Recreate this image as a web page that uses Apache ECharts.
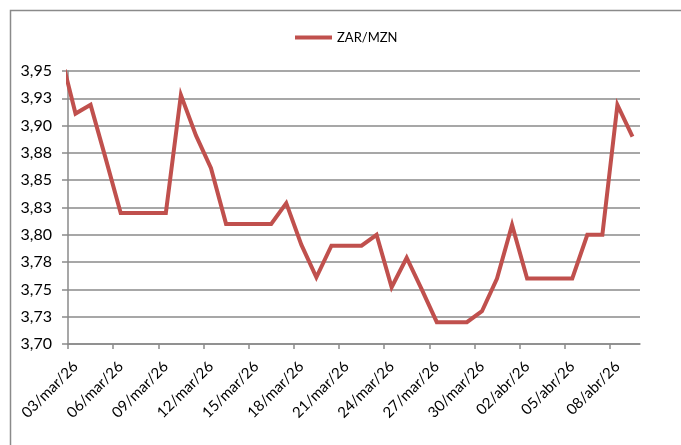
<!DOCTYPE html>
<html>
<head>
<meta charset="utf-8">
<script src="https://cdn.jsdelivr.net/npm/echarts@6/dist/echarts.min.js"></script>
<style>
  html, body { margin: 0; padding: 0; background: #fff; }
  #chart { width: 681px; height: 445px; }
</style>
</head>
<body>
<div id="chart"></div>
<script>
// daily quotes, first entry sits just before the visible axis range (clipped)
const dates = [
  '02/mar/26', '03/mar/26', '04/mar/26', '05/mar/26', '06/mar/26', '07/mar/26', '08/mar/26',
  '09/mar/26', '10/mar/26', '11/mar/26', '12/mar/26', '13/mar/26', '14/mar/26', '15/mar/26',
  '16/mar/26', '17/mar/26', '18/mar/26', '19/mar/26', '20/mar/26', '21/mar/26', '22/mar/26',
  '23/mar/26', '24/mar/26', '25/mar/26', '26/mar/26', '27/mar/26', '28/mar/26', '29/mar/26',
  '30/mar/26', '31/mar/26', '01/abr/26', '02/abr/26', '03/abr/26', '04/abr/26', '05/abr/26',
  '06/abr/26', '07/abr/26', '08/abr/26', '09/abr/26'
]
const zarMzn = [
  3.966, 3.911, 3.919, 3.870, 3.820, 3.820, 3.820,
  3.820, 3.928, 3.891, 3.861, 3.810, 3.810, 3.810,
  3.810, 3.829, 3.791, 3.761, 3.790, 3.790, 3.790,
  3.800, 3.752, 3.779, 3.750, 3.720, 3.720, 3.720,
  3.730, 3.760, 3.809, 3.760, 3.760, 3.760, 3.760,
  3.800, 3.800, 3.919, 3.890
]
// labelled days, every third day starting 03/mar
const tickDays = [1, 4, 7, 10, 13, 16, 19, 22, 25, 28, 31, 34, 37]

const font = 'Lato, "Open Sans", sans-serif'
const grey = '#8a8a8a'

const chart = echarts.init(document.getElementById('chart'))
chart.setOption({
  animation: false,
  textStyle: { fontFamily: font },
  graphic: [{
    type: 'rect',
    shape: { x: 10.5, y: 10.5, width: 720, height: 480 },
    style: { fill: 'none', stroke: grey, lineWidth: 1.5 },
    silent: true
  }],
  legend: {
    left: 290,
    top: 26,
    icon: 'rect',
    itemWidth: 37,
    itemHeight: 4,
    textStyle: { fontFamily: font, fontSize: 13, color: '#000' },
    data: ['ZAR/MZN']
  },
  grid: { left: 68, right: 41, top: 71, bottom: 101 },
  xAxis: {
    type: 'value',
    min: 0.5,
    max: 38.5,
    axisLine: { lineStyle: { color: grey, width: 1.5 } },
    axisTick: {
      show: true,
      length: 5,
      lineStyle: { color: grey, width: 1.5 },
      // ticks sit on the day boundaries
      customValues: tickDays.map(d => d - 0.5)
    },
    axisLabel: {
      rotate: 45,
      margin: 20,
      fontSize: 15,
      color: '#000',
      customValues: tickDays,
      formatter: v => dates[Math.round(v)]
    },
    splitLine: { show: false }
  },
  yAxis: {
    type: 'value',
    min: 3.7,
    max: 3.95,
    interval: 0.025,
    axisLine: { show: true, lineStyle: { color: grey, width: 1.5 } },
    axisTick: { show: true, length: 6, lineStyle: { color: grey, width: 1.5 } },
    axisLabel: {
      fontSize: 16,
      color: '#000',
      margin: 16,
      formatter: v => (v + 1e-9).toFixed(2).replace('.', ',')
    },
    splitLine: { lineStyle: { color: grey, width: 1.5 } }
  },
  series: [{
    name: 'ZAR/MZN',
    type: 'line',
    data: zarMzn.map((v, i) => [i, v]),
    showSymbol: false,
    clip: true,
    lineStyle: { color: '#C0504D', width: 4, join: 'miter' },
    itemStyle: { color: '#C0504D' }
  }]
})
</script>
</body>
</html>
